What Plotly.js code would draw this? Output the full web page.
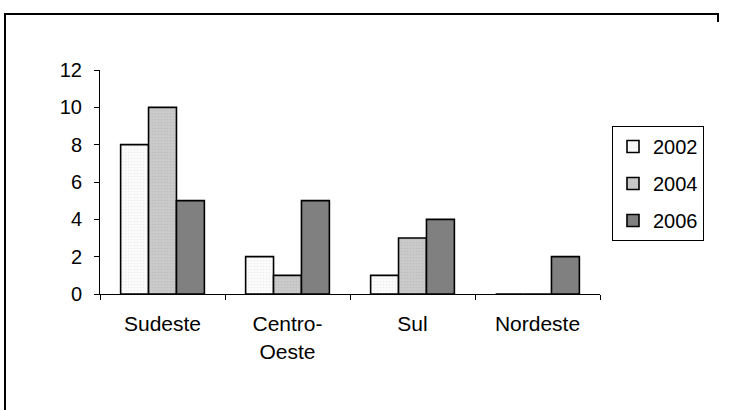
<!DOCTYPE html>
<html>
<head>
<meta charset="utf-8">
<script src="https://cdn.plot.ly/plotly-3.0.1.min.js"></script>
<style>html,body{margin:0;padding:0;background:#fff;}#chart{width:735px;height:410px;}</style>
</head>
<body>
<div id="chart"></div>
<script>
const categories = ['Sudeste', 'Centro-<br>Oeste', 'Sul', 'Nordeste'];
const seriesNames = ['2002', '2004', '2006'];
const values2002 = [8, 2, 1, 0];
const values2004 = [10, 1, 3, 0];
const values2006 = [5, 5, 4, 2];
const yTicks = [0, 2, 4, 6, 8, 10, 12];

const colors = ['#fcfcfc', '#cbcbcb', '#808080'];
const patternFg = ['#eeeeee', '#bebebe', '#808080'];
const allValues = [values2002, values2004, values2006];

const traces = allValues.map((v, i) => ({
  type: 'bar',
  name: seriesNames[i],
  x: categories,
  y: v,
  legendgroup: 'g' + i,
  marker: {
    color: colors[i],
    line: {color: '#000', width: 1.6},
    pattern: i < 2 ? {shape: '.', fgcolor: patternFg[i], bgcolor: colors[i], size: 3, solidity: 0.25} : undefined
  },
  hoverinfo: 'none'
}));

const font = {family: 'Liberation Sans, Arial, sans-serif', size: 20, color: '#000'};
const bigFont = {family: 'Liberation Sans, Arial, sans-serif', size: 21, color: '#000'};
const X = px => (px - 100) / 500;
const Y = py => (294 - py) / 224;

const layout = {
  width: 735, height: 410,
  margin: {l: 100, r: 135, t: 70, b: 116},
  paper_bgcolor: '#fff', plot_bgcolor: '#fff',
  font: font,
  barmode: 'group',
  bargap: 0.33,
  bargroupgap: 0,
  showlegend: true,
  legend: {
    x: X(612), xanchor: 'left', y: Y(126), yanchor: 'top',
    bordercolor: '#000', borderwidth: 1,
    traceorder: 'grouped', tracegroupgap: 8,
    font: font, itemwidth: 30
  },
  xaxis: {
    showline: true, linecolor: '#000', linewidth: 1,
    ticks: 'outside', tickson: 'boundaries', ticklen: 5, tickcolor: '#000',
    showgrid: false, zeroline: false, ticklabelstandoff: 11,
    tickfont: bigFont
  },
  yaxis: {
    range: [0, 12], tickvals: yTicks, ticktext: yTicks.map(String),
    showline: true, linecolor: '#000', linewidth: 1,
    ticks: 'outside', ticklen: 5, tickcolor: '#000', ticklabelstandoff: 8,
    showgrid: false, zeroline: false, tickfont: font
  },
  shapes: [
    {type: 'line', xref: 'paper', yref: 'paper', x0: X(5), x1: X(5), y0: Y(13), y1: Y(412), line: {color: '#000', width: 2}},
    {type: 'line', xref: 'paper', yref: 'paper', x0: X(4), x1: X(719), y0: Y(14), y1: Y(14), line: {color: '#000', width: 2}},
    {type: 'line', xref: 'paper', yref: 'paper', x0: X(718), x1: X(718), y0: Y(13), y1: Y(22), line: {color: '#000', width: 2}}
  ]
};

Plotly.newPlot('chart', traces, layout, {displayModeBar: false, staticPlot: true});
</script>
</body>
</html>
